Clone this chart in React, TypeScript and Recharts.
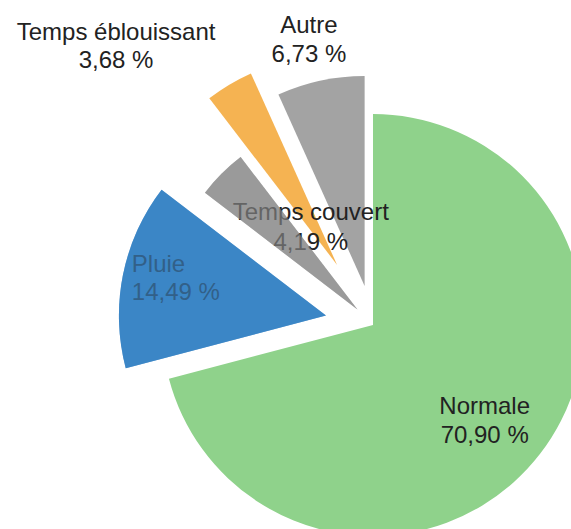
import React from 'react';
import { PieChart, Pie, Cell, Sector } from 'recharts';

// ---- data ----
const categories = ['Normale', 'Pluie', 'Temps couvert', 'Temps éblouissant', 'Autre'];
const shares = [70.9, 14.49, 4.19, 3.68, 6.73];

// ---- styles / layout ----
const colors = ['#8fd28b', '#3b86c6', '#9a9a9a', '#f5b352', '#a3a3a3'];
const explode = [0, 48, 22, 70, 40];
const radii = [211, 207, 192, 210, 210];
const CENTER_X = 373;
const CENTER_Y = 325;
const labelDist = [143, 199, 101, 315, 259];
const labelShift = [-1, -1.4, -17.5, 13.7, 0.3];
const labelAnchor = ['middle', 'start', 'middle', 'middle', 'middle'];
const labelGap = [29, 28, 30, 28, 29];
const labelVeil = [0, 0.62, 0.55, 0, 0];

const RAD = Math.PI / 180;
const total = shares.reduce((a, b) => a + b, 0);
const fmt = (v: number) => v.toFixed(2).replace('.', ',') + ' %';

const slices = shares.map((v, i) => {
  const before = shares.slice(0, i).reduce((a, b) => a + b, 0);
  const start = 90 - (before / total) * 360;
  const end = 90 - ((before + v) / total) * 360;
  const mid = (start + end) / 2;
  return {
    name: categories[i],
    value: v,
    start,
    end,
    cx: CENTER_X + explode[i] * Math.cos(mid * RAD),
    cy: CENTER_Y - explode[i] * Math.sin(mid * RAD),
  };
});

const makeLabel = (i: number) => (props: any) => {
  const { cx, cy, midAngle, outerRadius, startAngle, endAngle } = props;
  const a = (midAngle + labelShift[i]) * RAD;
  const x = cx + labelDist[i] * Math.cos(a);
  const y = cy - labelDist[i] * Math.sin(a);
  return (
    <g>
      <text
        x={x}
        y={y}
        textAnchor={labelAnchor[i] as any}
        fontFamily="'Liberation Sans', Arial, sans-serif"
        fontSize={24}
        fill="#222222"
      >
        <tspan x={x} y={y}>{categories[i]}</tspan>
        <tspan x={x} y={y + labelGap[i]}>{fmt(shares[i])}</tspan>
      </text>
      {labelVeil[i] > 0 ? (
        <Sector
          cx={cx}
          cy={cy}
          innerRadius={0}
          outerRadius={outerRadius}
          startAngle={startAngle}
          endAngle={endAngle}
          fill={colors[i]}
          fillOpacity={labelVeil[i]}
          stroke="none"
        />
      ) : null}
    </g>
  );
};

export default function App() {
  return (
    <div style={{ position: 'absolute', left: 0, top: 0, background: '#fff' }}>
      <PieChart width={571} height={529} margin={{ top: 0, right: 0, bottom: 0, left: 0 }}>
        {slices.map((s, i) => (
          <Pie
            key={s.name}
            data={[s]}
            dataKey="value"
            nameKey="name"
            cx={s.cx}
            cy={s.cy}
            innerRadius={0}
            outerRadius={radii[i]}
            startAngle={s.start}
            endAngle={s.end}
            stroke="none"
            isAnimationActive={false}
            labelLine={false}
            label={makeLabel(i)}
          >
            <Cell fill={colors[i]} />
          </Pie>
        ))}
      </PieChart>
    </div>
  );
}
